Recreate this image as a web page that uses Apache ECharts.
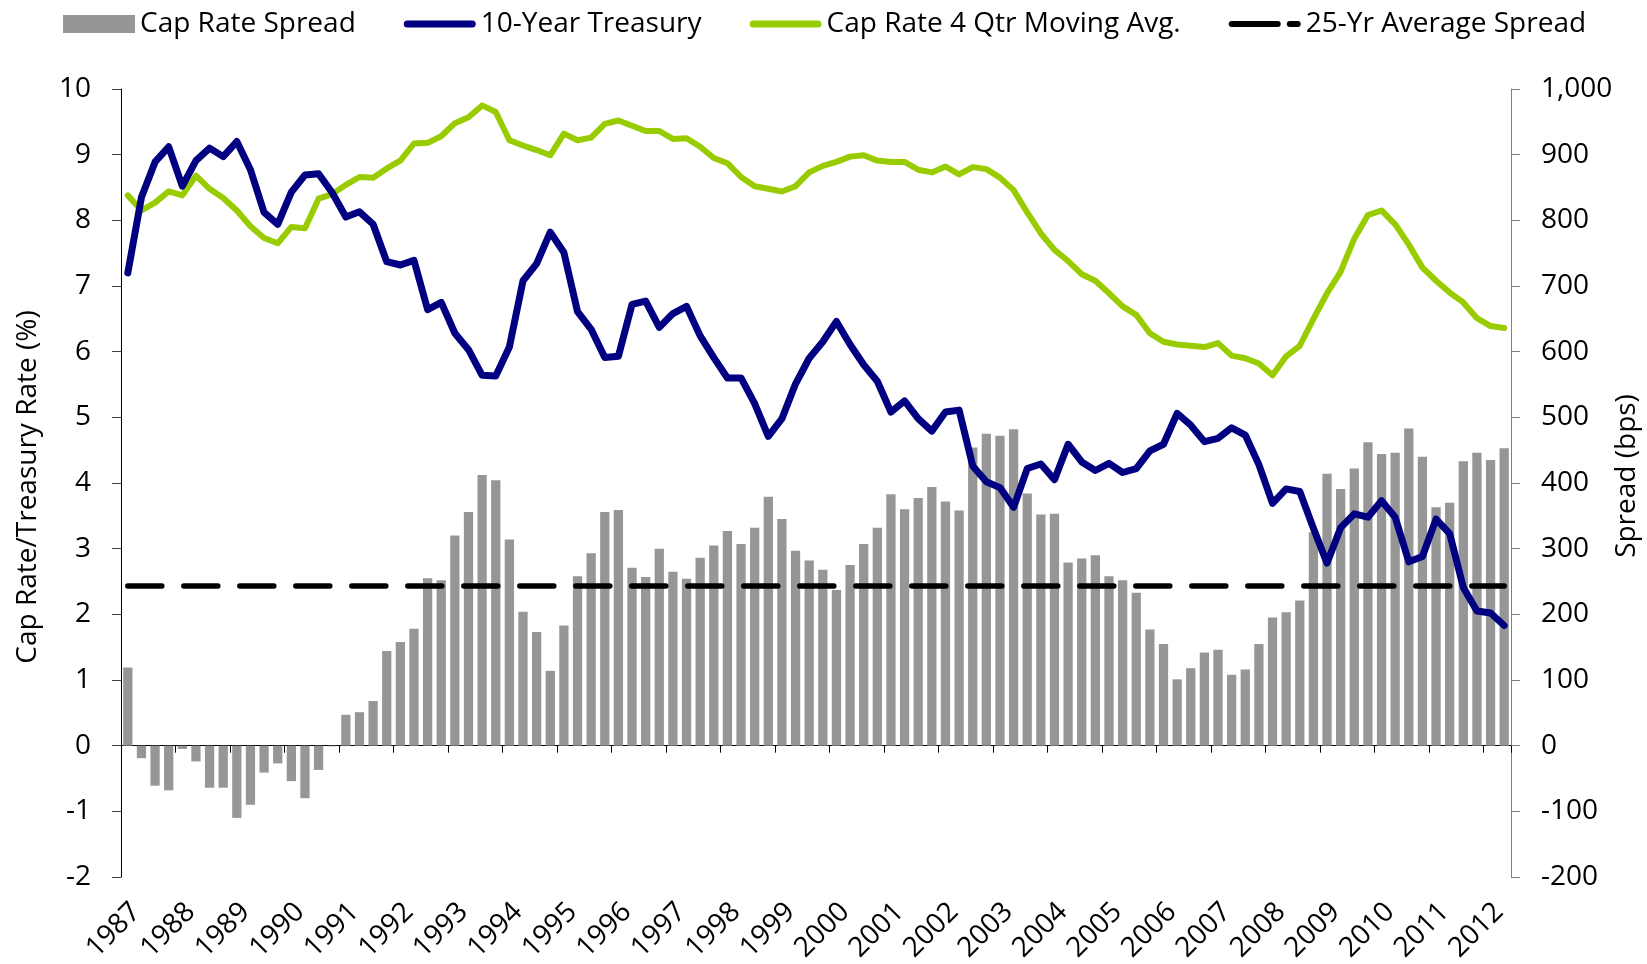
<!DOCTYPE html>
<html>
<head>
<meta charset="utf-8">
<script src="https://cdn.jsdelivr.net/npm/echarts@6/dist/echarts.min.js"></script>
<style>
html,body{margin:0;padding:0;background:#fff;}
#chart{width:1647px;height:964px;}
</style>
</head>
<body>
<div id="chart"></div>
<script>
// ---- data (quarterly, 1987 Q1 - 2012 Q2) ----
const years = [1987,1988,1989,1990,1991,1992,1993,1994,1995,1996,1997,1998,1999,2000,2001,2002,2003,2004,2005,2006,2007,2008,2009,2010,2011,2012];
const quarters = ['Q1','Q2','Q3','Q4'];
const categories = [];
years.forEach(y => quarters.forEach(q => categories.push(y + ' ' + q)));
categories.length = 102;

// Cap rate spread (bps)
const capRateSpread = [
 119,-19,-61,-68,-5,-24,-64,-64,-110,-90,-41,-27,-54,-80,-37,-1,
 47,51,68,144,158,178,255,252,320,356,412,404,314,204,173,114,
 183,258,293,356,359,271,257,300,265,254,286,305,327,307,332,379,
 345,297,282,268,237,275,307,332,383,360,377,394,372,358,454,475,
 472,482,384,352,353,279,285,290,258,252,233,177,155,101,118,142,
 146,108,116,155,195,203,221,325,414,391,422,462,444,446,483,440,
 363,370,433,446,435,453
];
// 10-Year Treasury (%)
const treasury10y = [
 7.20,8.35,8.89,9.12,8.52,8.91,9.10,8.97,9.20,8.77,8.12,7.94,8.43,8.69,8.71,8.42,
 8.05,8.13,7.94,7.37,7.32,7.39,6.64,6.75,6.28,6.03,5.64,5.63,6.07,7.08,7.34,7.82,
 7.51,6.61,6.34,5.91,5.93,6.72,6.77,6.37,6.58,6.69,6.24,5.91,5.60,5.60,5.21,4.71,
 4.98,5.51,5.90,6.15,6.46,6.11,5.80,5.55,5.08,5.25,4.98,4.79,5.08,5.11,4.26,4.02,
 3.93,3.63,4.22,4.29,4.05,4.59,4.32,4.19,4.30,4.16,4.22,4.49,4.59,5.06,4.88,4.63,
 4.68,4.84,4.73,4.28,3.69,3.91,3.87,3.31,2.78,3.32,3.53,3.48,3.73,3.48,2.80,2.88,
 3.45,3.23,2.41,2.05,2.02,1.83
];
// Cap rate 4 quarter moving average (%)
const capRateMA = [
 8.38,8.15,8.27,8.44,8.38,8.68,8.48,8.34,8.15,7.91,7.73,7.65,7.90,7.88,8.33,8.40,
 8.54,8.66,8.65,8.79,8.91,9.17,9.18,9.28,9.48,9.57,9.75,9.65,9.22,9.14,9.07,8.99,
 9.32,9.22,9.26,9.47,9.52,9.44,9.36,9.36,9.24,9.25,9.12,8.95,8.87,8.66,8.52,8.48,
 8.44,8.52,8.73,8.83,8.89,8.97,8.99,8.91,8.89,8.89,8.77,8.73,8.82,8.70,8.81,8.78,
 8.65,8.46,8.12,7.80,7.55,7.38,7.18,7.08,6.89,6.69,6.56,6.28,6.15,6.11,6.09,6.07,
 6.13,5.94,5.90,5.82,5.64,5.93,6.09,6.50,6.89,7.22,7.72,8.08,8.15,7.94,7.63,7.28,
 7.08,6.90,6.75,6.51,6.39,6.36
];
// 25-year average spread (bps)
const avgSpreadValue = 243;
const avgSpread = categories.map(() => avgSpreadValue);

const FONT = '"Open Sans", "Noto Sans", sans-serif';
// legend icons (72 x 18 box): thick rounded line, and a long+short dash
const LINE_ICON = 'path://M0,0L0.01,0L0,0.01ZM72,18L71.99,18L72,17.99ZM3.5,5.5H68.5A3.5,3.5,0,0,1,68.5,12.5H3.5A3.5,3.5,0,0,1,3.5,5.5Z';
const DASH_ICON = 'path://M0,0L0.01,0L0,0.01ZM72,18L71.99,18L72,17.99ZM3,6H49A3,3,0,0,1,49,12H3A3,3,0,0,1,3,6ZM61,6H69A3,3,0,0,1,69,12H61A3,3,0,0,1,61,6Z';

const chart = echarts.init(document.getElementById('chart'), null, {renderer: 'canvas'});
chart.setOption({
  animation: false,
  backgroundColor: '#fff',
  textStyle: {fontFamily: FONT},
  legend: {
    data: [
      {name: 'Cap Rate Spread', icon: 'rect'},
      {name: '10-Year Treasury', icon: LINE_ICON},
      {name: 'Cap Rate 4 Qtr Moving Avg.', icon: LINE_ICON},
      {name: '25-Yr Average Spread', icon: DASH_ICON}
    ],
    left: 58, top: 5,
    itemWidth: 72, itemHeight: 18, itemGap: 48,
    textStyle: {fontFamily: FONT, fontSize: 28, color: '#000'}
  },
  grid: {left: 121, right: 136, top: 89, bottom: 87, containLabel: false, outerBoundsMode: 'none'},
  xAxis: [{
    type: 'category', data: categories, position: 'bottom',
    axisLine: {onZero: true, lineStyle: {color: '#000', width: 1}},
    axisTick: {show: true, interval: 3, length: 7, alignWithLabel: false, lineStyle: {color: '#000'}},
    axisLabel: {show: false},
    splitLine: {show: false}
  }, {
    type: 'category', data: categories, position: 'bottom',
    axisLine: {show: false, onZero: false},
    axisTick: {show: false},
    axisLabel: {show: true, interval: 3, rotate: 45, fontSize: 28, margin: 22, color: '#000', fontFamily: FONT,
      verticalAlign: 'top', lineHeight: 24,
      formatter: v => v.slice(0, 4)},
    splitLine: {show: false}
  }],
  yAxis: [{
    type: 'value', min: -2, max: 10, interval: 1, position: 'left',
    name: 'Cap Rate/Treasury Rate (%)', nameLocation: 'middle', nameRotate: 90, nameGap: 79,
    nameTextStyle: {fontSize: 28, color: '#000', fontFamily: FONT, padding: [0, 8, 0, 0]},
    axisLine: {show: true, lineStyle: {color: '#000', width: 1}},
    axisTick: {show: true, length: 9, lineStyle: {color: '#404040'}},
    axisLabel: {fontSize: 28, margin: 30, color: '#000', fontFamily: FONT},
    splitLine: {show: false}
  }, {
    type: 'value', min: -200, max: 1000, interval: 100, position: 'right',
    name: 'Spread (bps)', nameLocation: 'middle', nameRotate: 90, nameGap: 102, nameMoveOverlap: false,
    nameTextStyle: {fontSize: 28, color: '#000', fontFamily: FONT, padding: [0, 0, 0, 14]},
    axisLine: {show: true, lineStyle: {color: '#808080', width: 1}},
    axisTick: {show: true, length: 9, lineStyle: {color: '#808080'}},
    axisLabel: {fontSize: 28, margin: 30, color: '#000', fontFamily: FONT,
      formatter: v => v.toLocaleString('en-US')},
    splitLine: {show: false}
  }],
  series: [{
    name: 'Cap Rate Spread', type: 'bar', xAxisIndex: 0, yAxisIndex: 1,
    data: capRateSpread, barCategoryGap: '32%',
    itemStyle: {color: '#969696'}, z: 1
  }, {
    name: '25-Yr Average Spread', type: 'line', xAxisIndex: 0, yAxisIndex: 1,
    data: avgSpread, symbol: 'none',
    lineStyle: {color: '#000', width: 5.5, type: [34, 22], cap: 'round'},
    itemStyle: {color: '#000'}, z: 2
  }, {
    name: 'Cap Rate 4 Qtr Moving Avg.', type: 'line', xAxisIndex: 0, yAxisIndex: 0,
    data: capRateMA, symbol: 'none',
    lineStyle: {color: '#99CC00', width: 6, cap: 'round', join: 'round'},
    itemStyle: {color: '#99CC00'}, z: 3
  }, {
    name: '10-Year Treasury', type: 'line', xAxisIndex: 0, yAxisIndex: 0,
    data: treasury10y, symbol: 'none',
    lineStyle: {color: '#000080', width: 7, cap: 'round', join: 'round'},
    itemStyle: {color: '#000080'}, z: 4
  }]
});
</script>
</body>
</html>
